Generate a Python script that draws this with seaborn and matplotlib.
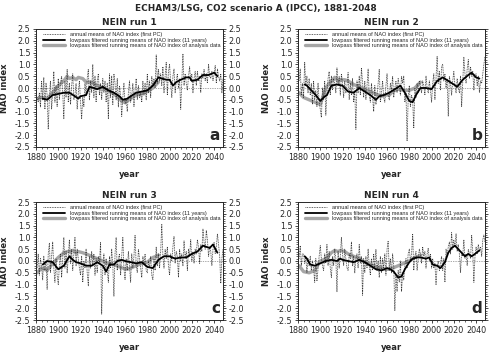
import numpy as np
import matplotlib
matplotlib.use("Agg")
import matplotlib.pyplot as plt
import seaborn as sns
from matplotlib.lines import Line2D
from matplotlib.ticker import MultipleLocator

sns.set_style("ticks")
plt.rcParams['font.family'] = ['DejaVu Sans']

years = np.arange(1881, 2049)

# annual means of NAO index (first PC), one list per run
annual_1 = [-0.4, -0.6, -0.2, -0.8, 0.3, -0.5, 0.45, -0.9, 0.2, -0.3,
            -1.75, -0.4, 0.3, -0.9, -0.2, 0.7, -0.6, 0.1, -0.8, 0.4,
            -0.5, 0.2, 0.5, -0.2, -1.3, 0.3, -0.4, 0.8, -0.6, 0.2,
            -0.7, 0.1, 0.6, -0.5, -0.3, 0.2, -0.9, -0.2, 0.3, -0.6,
            -1.3, -0.4, -0.8, 0.2, -0.3, 0.4, 0.8, -0.5, 0.3, -0.2,
            1.0, -0.4, 0.5, -0.6, 0.3, 0.6, -0.3, 0.2, -0.5, 0.4,
            -0.2, 0.3, -0.6, 0.2, -1.3, 0.6, -0.4, 0.5, -0.7, 0.6,
            0.2, -0.5, 0.4, -0.8, 0.1, -0.3, -1.2, -0.4, 0.2, -0.7,
            -0.5, -1.0, -0.2, 0.3, -0.6, -0.3, 0.2, -0.8, -0.1, 0.4,
            -0.5, 0.1, -0.4, -0.2, -0.6, 0.3, -0.3, 0.2, -0.5, 0.6,
            -0.2, 0.3, -0.4, 0.5, 0.1, 0.4, 0.0, 1.4, 0.2, 0.8,
            0.3, 0.6, 0.1, 0.9, -0.2, 0.5, 1.1, -0.3, 0.7, 1.0,
            0.2, -0.4, 0.5, 0.8, -0.2, 0.3, 0.6, 0.0, 0.4, -0.9,
            0.3, 1.45, 0.1, 0.6, 0.2, -0.1, 0.5, 0.9, 0.3, 0.6,
            -0.2, 0.4, 0.7, 0.1, 0.7, 0.3, 0.5, -0.2, 0.6, 0.4,
            0.8, 0.3, 0.6, 0.2, 1.0, 0.5, 0.4, 0.7, 0.3, 0.6,
            0.95, 0.2, 0.8, 0.5, 0.3, 0.6, -0.2, 0.4]
annual_2 = [0.3, 0.8, -0.3, 0.2, -0.4, 1.1, 0.1, 0.5, -0.2, 0.4,
            -0.3, 0.2, -0.7, 0.3, -0.5, -0.1, -0.8, 0.2, -0.6, -0.9,
            -1.25, 0.0, -0.5, 0.3, -1.15, -0.2, 0.4, 0.7, -0.3, 0.5,
            -0.1, 0.4, 0.2, -0.2, 0.85, 0.1, 0.5, -0.3, 0.6, 0.2,
            -0.4, 0.3, -0.2, 0.1, 0.65, -0.5, 0.2, -0.3, 0.4, -0.6,
            -0.1, -1.75, 0.3, -0.2, 0.5, -0.3, 0.85, 0.2, -0.4, 0.3,
            -0.5, 0.1, 0.8, -0.3, -0.6, 0.2, -0.4, -1.0, 0.1, -0.7,
            -0.3, 0.2, 0.8, -0.6, -0.2, 0.3, -0.4, -0.6, 0.1, 0.6,
            -0.3, -0.5, 0.2, -0.1, 0.5, -0.4, 0.0, 0.3, -0.2, 0.4,
            0.1, -0.3, 0.5, 0.2, 0.5, -0.6, -0.2, -2.25, -0.4, 0.1,
            -0.8, -0.3, -0.5, -1.7, 0.0, -0.4, 0.2, -0.2, 0.3, 0.1,
            -0.2, 0.3, 0.1, -0.3, 0.5, 0.0, -0.2, 0.3, -0.1, -0.6,
            0.2, 0.6, -0.5, 0.4, 1.35, 0.2, 0.7, -0.1, 0.9, 1.0,
            0.3, 0.6, 0.0, 0.4, -1.2, 0.5, 0.2, -0.3, 0.3, 0.7,
            0.1, -0.2, 0.4, 0.0, -0.2, 0.5, -0.8, 0.3, 1.3, 0.6,
            0.2, 0.8, 1.2, 0.4, 0.9, 0.5, 0.7, -0.1, 0.6, 0.6,
            0.1, 0.5, -0.2, 0.3, 0.2, 0.6, 1.0, 1.35]
annual_3 = [-0.3, 0.3, -0.6, 0.1, -0.2, -0.8, 0.2, -0.4, 0.0, -1.2,
            0.3, 0.75, -0.5, 0.2, 0.8, -0.3, -0.9, 0.1, -0.6, -1.0,
            -0.2, 0.3, -0.7, 0.1, 1.0, -0.3, 0.4, -0.5, 0.2, 0.9,
            -0.1, 0.5, -0.4, 0.3, 1.0, -0.2, 0.5, 0.1, -0.3, -0.6,
            0.2, -0.9, 0.0, -0.3, 0.5, -0.5, -1.05, 0.2, -0.3, 0.4,
            -0.2, 0.3, -0.6, 0.1, -0.5, 0.2, -0.1, 0.8, -2.25, -0.3,
            0.3, -0.6, 0.1, -0.4, -0.9, 0.2, -0.3, 0.5, -0.2, -1.5,
            0.3, 1.0, -0.4, 0.1, 0.3, -0.6, 0.2, 1.0, -0.3, -0.8,
            0.1, -0.4, 0.4, -0.2, -0.9, 0.3, -0.3, 0.2, 1.1, -0.2,
            -0.5, 0.5, 0.1, -0.3, -0.7, 0.2, -0.1, 0.3, -0.4, -0.5,
            0.0, -0.3, 0.2, -0.6, -0.8, 0.1, -0.4, 0.6, -0.2, 0.3,
            -0.3, 0.4, 1.55, 0.2, -0.3, 0.5, 0.1, 0.6, -0.2, -0.6,
            0.3, 0.0, 0.6, 1.05, -0.1, 0.4, 0.2, -0.7, 0.5, 0.0,
            0.3, -0.2, 0.85, 0.1, 0.4, -0.4, 0.5, 0.2, 0.9, 0.0,
            0.4, -0.1, 0.5, 0.3, 0.9, 0.6, -0.1, 0.7, 0.4, 1.35,
            0.8, 0.5, 1.3, 0.9, 0.2, 0.6, 0.4, -0.2, 0.5, 0.8,
            0.3, 0.6, 1.15, 0.7, 0.2, -0.95, 0.1, 0.5]
annual_4 = [0.1, 0.65, -0.2, 0.3, 0.3, -0.1, 0.2, -0.5, 0.1, -0.2,
            0.2, -0.4, 0.0, -0.3, -0.9, 0.1, -0.85, -0.3, 0.2, 0.65,
            0.1, -0.2, -0.4, 0.3, -0.1, 0.7, -0.2, 0.4, -0.3, -0.7,
            0.2, -0.2, 0.5, 0.1, -1.3, 0.4, -0.3, 0.2, 1.0, 0.3,
            -0.2, 0.5, 0.1, -0.3, -0.4, 0.3, 0.1, 0.8, -0.2, 0.2,
            -0.5, 0.1, 0.3, -0.3, 0.7, -0.1, 0.2, -1.45, 0.1, -0.5,
            0.2, -0.3, 0.5, -0.2, -0.6, 0.1, -0.4, 0.3, -0.3, 0.5,
            -0.4, 0.0, -0.7, 0.2, -0.5, 0.1, -0.3, 0.3, -0.6, 0.5,
            0.85, -0.4, 0.1, -0.5, 0.3, -0.2, -2.1, -0.6, -1.3, -0.4,
            -0.9, 0.0, -1.3, -0.5, -0.8, -0.2, 0.1, -0.3, 0.3, 0.5,
            0.0, 0.3, 1.15, -0.4, 0.2, 0.4, -0.4, 0.1, 0.5, 0.3,
            -0.1, 0.6, 0.2, 0.4, -0.3, 0.3, 0.55, 0.0, 0.3, -0.3,
            0.1, -0.3, -0.1, -1.0, -0.2, 0.0, -0.4, -0.1, 0.2, -0.4,
            0.1, -0.9, 0.5, 0.2, 0.6, 0.8, 0.3, 1.2, 0.5, 0.9,
            0.6, 1.15, 0.4, 0.7, 0.3, -0.5, 0.4, 0.2, 0.9, 0.1,
            0.3, -0.2, 0.5, 0.3, 0.1, 1.1, 0.4, -0.9, 0.2, 0.6,
            0.3, 0.7, 0.4, 0.6, 0.2, 0.9, 1.1, 0.8]

# lowpass filtered running means (11 years), model runs
low_years_1 = [1886, 1890, 1895, 1900, 1905, 1910, 1915, 1918, 1920, 1925, 1928, 1932, 1935,
               1940, 1945, 1950, 1955, 1958, 1962, 1965, 1970, 1975, 1980, 1985, 1990, 1993,
               1997, 2000, 2003, 2006, 2010, 2015, 2018, 2020, 2025, 2030, 2035, 2040, 2043]
low_1 = [-0.45, -0.5, -0.3, -0.25, -0.2, -0.2, -0.35, -0.45, -0.35, -0.3, 0.05, 0.0, -0.05,
         0.05, -0.1, -0.2, -0.35, -0.5, -0.45, -0.35, -0.2, -0.15, -0.1, 0.1, 0.45, 0.4,
         0.35, 0.35, 0.1, 0.25, 0.35, 0.45, 0.45, 0.3, 0.35, 0.55, 0.55, 0.65, 0.5]
low_years_2 = [1886, 1888, 1892, 1896, 1900, 1903, 1906, 1910, 1915, 1920, 1925, 1930, 1935,
               1940, 1945, 1950, 1953, 1957, 1962, 1967, 1972, 1976, 1980, 1983, 1986, 1990,
               1995, 2000, 2005, 2010, 2015, 2020, 2023, 2028, 2033, 2036, 2040, 2043]
low_2 = [0.15, 0.1, -0.1, -0.3, -0.55, -0.4, -0.3, 0.1, 0.15, 0.1, -0.15, -0.2, 0.0,
         -0.15, -0.3, -0.5, -0.35, -0.3, -0.2, -0.05, 0.1, -0.2, -0.55, -0.6, -0.3, 0.0,
         0.0, -0.05, 0.3, 0.45, 0.3, 0.15, 0.05, 0.35, 0.55, 0.65, 0.45, 0.4]
low_years_3 = [1886, 1890, 1895, 1900, 1905, 1910, 1913, 1916, 1920, 1925, 1930, 1935, 1940,
               1943, 1946, 1950, 1953, 1957, 1960, 1965, 1970, 1975, 1980, 1985, 1990, 1995,
               2000, 2005, 2010, 2015, 2020, 2025, 2030, 2033, 2036, 2039, 2043]
low_3 = [-0.15, 0.0, -0.05, -0.35, -0.2, 0.2, 0.05, -0.05, -0.1, -0.2, -0.2, -0.05, -0.2,
         -0.45, -0.15, -0.15, 0.0, 0.05, 0.0, -0.05, -0.1, -0.05, -0.25, -0.3, 0.05, 0.2,
         0.2, 0.1, 0.15, 0.15, 0.3, 0.4, 0.65, 0.6, 0.55, 0.7, 0.35]
low_years_4 = [1886, 1888, 1891, 1895, 1900, 1905, 1910, 1915, 1918, 1920, 1925, 1930, 1935,
               1940, 1945, 1950, 1955, 1960, 1963, 1966, 1970, 1973, 1976, 1980, 1983, 1987,
               1990, 1995, 1998, 2001, 2005, 2008, 2012, 2015, 2018, 2021, 2024, 2027, 2030,
               2033, 2036, 2039, 2043]
low_4 = [0.2, 0.1, -0.15, -0.2, -0.1, 0.0, 0.05, 0.0, 0.1, 0.05, 0.0, -0.05, 0.05,
         -0.05, -0.2, -0.35, -0.4, -0.3, -0.35, -0.45, -0.7, -0.65, -0.35, -0.05, 0.1, 0.15,
         0.15, 0.1, 0.15, -0.15, -0.2, -0.3, -0.05, 0.35, 0.55, 0.65, 0.5, 0.35, 0.2,
         0.3, 0.2, 0.3, 0.45]

# lowpass filtered running means of analysis data
ana_years = [1881, 1885, 1890, 1895, 1900, 1905, 1908, 1910, 1913, 1916, 1918, 1922, 1925,
             1930, 1935, 1940, 1945, 1950, 1955, 1958, 1962, 1965, 1970, 1975, 1980, 1985,
             1988, 1990]
ana_1 = [-0.45, -0.4, -0.45, -0.2, 0.1, 0.3, 0.5, 0.4, 0.45, 0.35, 0.45, 0.4, 0.25,
         0.25, 0.1, 0.0, -0.1, -0.25, -0.45, -0.6, -0.55, -0.45, -0.3, -0.25, -0.15, 0.0,
         0.15, 0.25]
ana_2 = [-0.2, -0.4, -0.5, -0.6, -0.7, 0.0, 0.2, 0.3, 0.45, 0.3, 0.35, 0.35, 0.3,
         0.15, 0.05, -0.05, -0.15, -0.25, -0.35, -0.3, -0.3, -0.15, -0.05, -0.1, -0.1, 0.0,
         0.15, 0.25]
ana_3 = [-0.5, -0.3, -0.4, -0.1, 0.15, 0.35, 0.4, 0.4, 0.45, 0.35, 0.4, 0.35, 0.3,
         0.2, 0.1, 0.0, -0.1, -0.15, -0.25, -0.3, -0.35, -0.3, -0.2, -0.1, -0.05, 0.15,
         0.2, 0.25]
ana_4 = [-0.2, -0.45, -0.5, -0.4, 0.0, 0.1, 0.25, 0.35, 0.45, 0.4, 0.45, 0.4, 0.3,
         0.2, 0.1, -0.05, -0.15, -0.25, -0.3, -0.35, -0.35, -0.3, -0.2, -0.1, 0.0, 0.15,
         0.2, 0.25]

titles = ['NEIN run 1', 'NEIN run 2', 'NEIN run 3', 'NEIN run 4']
letters = ['a', 'b', 'c', 'd']
annuals = [annual_1, annual_2, annual_3, annual_4]
lows = [(low_years_1, low_1), (low_years_2, low_2), (low_years_3, low_3), (low_years_4, low_4)]
anas = [ana_1, ana_2, ana_3, ana_4]
legend_labels = ['annual means of NAO index (first PC)',
                 'lowpass filtered running means of NAO index (11 years)',
                 'lowpass filtered running means of NAO index of analysis data']

W, H = 495, 354
fig = plt.figure(figsize=(W / 100, H / 100), dpi=100)
positions = [(36, 29), (298, 29), (36, 202), (298, 202)]
ax_w, ax_h = 187, 118

gray = '#a6a6a6'

for i in range(4):
    x0, y0 = positions[i]
    ax = fig.add_axes([x0 / W, 1 - (y0 + ax_h) / H, ax_w / W, ax_h / H])

    ax.axhline(0, color='#555555', lw=0.5, ls=(0, (1, 1.5)), zorder=1)
    sns.lineplot(x=ana_years, y=anas[i], ax=ax, color=gray, lw=2.4, zorder=2)
    sns.lineplot(x=years, y=annuals[i], ax=ax, color='#333333', lw=0.6,
                 ls=(0, (1, 1)), zorder=3)
    sns.lineplot(x=lows[i][0], y=lows[i][1], ax=ax, color='black', lw=1.3, zorder=4)

    ax.set_xlim(1880, 2048)
    ax.set_ylim(-2.5, 2.5)
    ax.xaxis.set_major_locator(MultipleLocator(20))
    ax.xaxis.set_minor_locator(MultipleLocator(5))
    ax.yaxis.set_minor_locator(MultipleLocator(0.1))
    ax.set_yticks(np.arange(-2.5, 2.51, 0.5))
    ax.set_yticklabels(['%.1f' % v for v in np.arange(-2.5, 2.51, 0.5)])
    ax.tick_params(which='major', length=2.5, width=0.6, labelsize=5.8, pad=1.5)
    ax.tick_params(which='minor', length=1.2, width=0.5)
    ax.tick_params(axis='y', which='both', right=True, labelright=(i % 2 == 0))
    for sp in ax.spines.values():
        sp.set_linewidth(0.7)
        sp.set_visible(True)

    ax.set_title(titles[i], fontsize=6.5, fontweight='bold', pad=3)
    ax.set_xlabel('year', fontsize=6, fontweight='bold', labelpad=6)
    ax.set_ylabel('NAO index', fontsize=6, fontweight='bold', labelpad=4)
    ax.text(0.985, 0.03, letters[i], transform=ax.transAxes, ha='right', va='bottom',
            fontsize=11, fontweight='bold')

    handles = [Line2D([], [], color='#333333', lw=0.6, ls=(0, (1, 1))),
               Line2D([], [], color='black', lw=1.3),
               Line2D([], [], color=gray, lw=2.4)]
    ax.legend(handles, legend_labels, loc='upper left', frameon=False,
              prop={'family': 'Liberation Sans', 'size': 4.0},
              handlelength=4.0, handletextpad=0.8, labelspacing=0.05,
              borderaxespad=0.2, bbox_to_anchor=(0.02, 1.0))

fig.text(0.516, 1 - 8 / H, 'ECHAM3/LSG, CO2 scenario A (IPCC), 1881-2048',
         ha='center', va='center', fontsize=6.4, fontweight='bold')

plt.savefig('out.png', dpi=100)
